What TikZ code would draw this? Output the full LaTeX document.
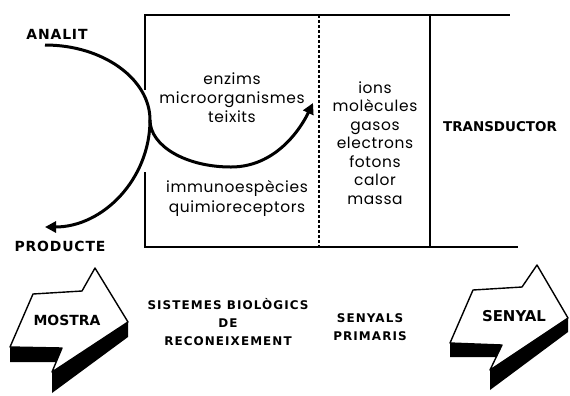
\documentclass[tikz,border=0pt]{standalone}
\usepackage{fontspec}
\setmainfont{Poppins}[LetterSpace=4]
\newfontfamily\capsf{DejaVu Sans}
\newfontfamily\capsl{DejaVu Sans}[LetterSpace=6]
\newfontfamily\capsw{DejaVu Sans}[LetterSpace=9]
\usetikzlibrary{arrows.meta}
\begin{document}
\begin{tikzpicture}[x=1bp,y=-1bp,
  lbl/.style={font=\capsf\bfseries\fontsize{14}{16}\selectfont, inner sep=0pt},
  wlbl/.style={font=\capsl\bfseries\fontsize{14}{16}\selectfont, inner sep=0pt},
  small/.style={font=\capsw\bfseries\fontsize{12}{18}\selectfont, inner sep=0pt, align=center},
  body/.style={font=\fontsize{15.5}{19}\selectfont, inner sep=0pt, align=center},
  boxline/.style={line width=2.4bp},
  flow/.style={line width=3bp, -{Triangle[length=11bp,width=11bp]}},
  face/.style={fill=white, draw=black, line width=1.4bp, line join=round},
  shade/.style={fill=black}]
\useasboundingbox (0,0) rectangle (570,395);

% box
\draw[boxline] (145,90) -- (145,15) -- (510,15);
\draw[boxline] (145,172) -- (145,247) -- (518,247);
\draw[line width=2bp, dash pattern=on 3bp off 2bp] (319,15) -- (319,247);
\draw[line width=2bp] (430,15) -- (430,247);

% texts
\node[wlbl] (analit) at (57,34) {ANALIT};
\node[wlbl] (producte) at (60,246) {PRODUCTE};
\node[body] (enz) at (232,98) {enzims\\microorganismes\\teixits};
\node[body, font=\fontsize{15.5}{20}\selectfont] (imm) at (237,198) {immunoespècies\\quimioreceptors};
\node[body, font=\fontsize{15.5}{18.5}\selectfont] (ions) at (375,143) {ions\\molècules\\gasos\\electrons\\fotons\\calor\\massa};
\node[lbl, font=\capsf\bfseries\fontsize{13.5}{16}\selectfont] (trans) at (500,127) {TRANSDUCTOR};
\node[small] (sist) at (228,322) {SISTEMES BIOLÒGICS\\DE\\RECONEIXEMENT};
\node[small] (senyals) at (370,327) {SENYALS\\PRIMARIS};

% curves
\coordinate (a0) at (45,45);
\coordinate (x) at (150,120);
\coordinate (tipR) at (313,103);
\coordinate (tipP) at (45,227);
\draw[flow] (a0) .. controls (103,45) and (150,79) .. (x)
  .. controls (150,146) and (186,167) .. (231,167)
  .. controls (275,167) and (300,130) .. (tipR);
\draw[flow] (x) .. controls (150,179) and (103,227) .. (tipP);

% MOSTRA arrow
\fill[shade] (10,347) -- (62,348) -- (62,362) -- (10,362) -- cycle;
\fill[shade] (52,372) -- (128,322) -- (128,337) -- (52,393) -- cycle;
\draw[face] (10,347) -- (33,294) -- (82,291) -- (95,268) -- (128,322) -- (52,372) -- (62,348) -- cycle;
\node[lbl] (mostra) at (67,320) {MOSTRA};

% SENYAL arrow
\fill[shade] (450,343) -- (502,345) -- (502,357) -- (450,357) -- cycle;
\fill[shade] (490,370) -- (568,318) -- (568,332) -- (490,390) -- cycle;
\draw[face] (450,343) -- (473,290) -- (522,287) -- (537,265) -- (568,318) -- (490,370) -- (502,345) -- cycle;
\node[lbl, font=\capsf\bfseries\fontsize{15}{16}\selectfont] (senyal) at (514,316) {SENYAL};
\end{tikzpicture}
\end{document}
